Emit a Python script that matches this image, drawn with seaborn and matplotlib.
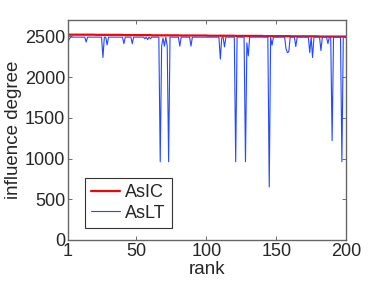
import matplotlib
matplotlib.use("Agg")
from matplotlib import pyplot as plt
import numpy as np
import seaborn as sns
import pandas as pd

ranks = list(range(1, 201))

# AsIC influence degree per rank (nearly flat, slowly decreasing)
asic = [2520] * 20 + [2518] * 20 + [2515] * 20 + [2512] * 20 + [2510] * 20 \
     + [2507] * 20 + [2505] * 20 + [2502] * 20 + [2500] * 20 + [2497] * 20

# AsLT influence degree per rank, written out in rows of 20
aslt = [
    2430, 2470, 2490, 2490, 2490, 2490, 2490, 2490, 2490, 2490, 2490, 2490, 2490, 2430, 2490, 2490, 2490, 2490, 2490, 2490,
    2490, 2490, 2490, 2490, 2490, 2240, 2490, 2490, 2395, 2490, 2490, 2490, 2490, 2490, 2490, 2490, 2490, 2490, 2490, 2490,
    2410, 2490, 2490, 2490, 2490, 2490, 2410, 2490, 2490, 2490, 2490, 2490, 2490, 2490, 2490, 2470, 2490, 2460, 2490, 2470,
    2490, 2490, 2490, 2490, 2490, 2490, 960, 2380, 2480, 2380, 2490, 2380, 960, 2490, 2490, 2490, 2490, 2490, 2490, 2490,
    2380, 2490, 2490, 2490, 2490, 2490, 2490, 2490, 2380, 2490, 2490, 2490, 2490, 2490, 2490, 2490, 2490, 2490, 2490, 2490,
    2490, 2490, 2490, 2490, 2490, 2490, 2490, 2490, 2490, 2220, 2480, 2490, 2370, 2490, 2490, 2490, 2490, 2490, 2490, 2490,
    960, 2490, 2490, 2490, 2490, 2490, 2490, 960, 2420, 2260, 2490, 2490, 2490, 2490, 2490, 2490, 2490, 2490, 2490, 2490,
    2490, 2490, 2490, 2490, 650, 2490, 2390, 2490, 2490, 2490, 2490, 2490, 2490, 2490, 2490, 2490, 2350, 2300, 2310, 2490,
    2490, 2490, 2490, 2375, 2490, 2490, 2490, 2490, 2490, 2490, 2490, 2490, 2490, 2300, 2490, 2240, 2490, 2490, 2490, 2490,
    2490, 2325, 2490, 2490, 2490, 2490, 2410, 2490, 2490, 1220, 2490, 2490, 2490, 2490, 2490, 2490, 960, 2490, 2490, 2480,
]

x_ticks = [1, 50, 100, 150, 200]
y_ticks = [0, 500, 1000, 1500, 2000, 2500]

df = pd.DataFrame({"rank": ranks, "AsIC": asic, "AsLT": aslt})

sns.set_style("ticks")
plt.rcParams['font.family'] = ['Liberation Sans', 'DejaVu Sans']

fig = plt.figure(figsize=(3.82, 2.82), dpi=100)
ax = fig.add_axes([0.178, 0.149, 0.728, 0.78])

sns.lineplot(data=df, x="rank", y="AsIC", ax=ax, color="#ff0000", linewidth=1.6, label="AsIC")
sns.lineplot(data=df, x="rank", y="AsLT", ax=ax, color="#2449ff", linewidth=0.8, label="AsLT")

ax.set_xlim(1, 200)
ax.set_ylim(0, 2700)
ax.set_xticks(x_ticks)
ax.set_yticks(y_ticks)
ax.tick_params(direction="in", top=True, right=True, length=3, width=0.6,
               labelsize=13, color="#555555", pad=2)
for s in ax.spines.values():
    s.set_color("#666666")
    s.set_linewidth(1.0)

ax.set_xlabel("rank", fontsize=13.5, labelpad=1)
ax.set_ylabel("influence degree", fontsize=13.5, labelpad=2)

leg = ax.legend(loc="lower left", bbox_to_anchor=(0.06, 0.055), fontsize=13,
                fancybox=False, framealpha=1, edgecolor="#333333",
                handlelength=1.6, handletextpad=0.3, labelspacing=0.2,
                borderpad=0.35, borderaxespad=0)
leg.get_frame().set_linewidth(0.8)

fig.savefig("out.png", dpi=100)
